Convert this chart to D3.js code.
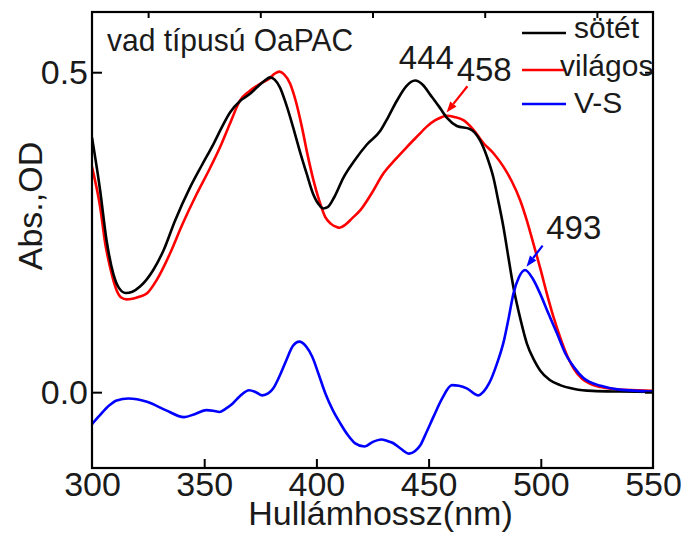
<!DOCTYPE html>
<html>
<head>
<meta charset="utf-8">
<script src="https://cdn.jsdelivr.net/npm/d3@7"></script>
<style>
  html, body { margin: 0; padding: 0; background: #fff; }
  svg { display: block; }
  text { font-family: "Liberation Sans", Arial, Helvetica, sans-serif; fill: #1a1a1a; }
</style>
</head>
<body>
<svg id="chart" width="685" height="533"></svg>
<script>
// Absorption spectra of wild-type OaPAC: dark state, light state and light-minus-dark difference
const darkNm = [300, 303.6, 306.5, 309.5, 312, 315, 318, 321.4, 327.3, 331.8, 337, 343.7, 349, 354, 358, 361.5, 366, 370, 373.4, 377, 379.4, 381.5, 383.8, 386.5, 389.7, 392.5, 395.7, 398.5, 401.6, 403.1, 405, 408, 412, 417, 422.5, 428.4, 432, 435.8, 440, 444, 447.5, 450.7, 454.5, 458.1, 462.6, 468.5, 473, 476, 478.9, 481, 483.4, 485.5, 487.8, 491, 493.8, 497, 499.7, 504, 508.6, 515, 523, 535, 550];
const darkAbs = [0.398, 0.316, 0.237, 0.185, 0.163, 0.155, 0.157, 0.165, 0.191, 0.221, 0.268, 0.320, 0.355, 0.387, 0.415, 0.437, 0.455, 0.465, 0.476, 0.487, 0.492, 0.488, 0.476, 0.450, 0.413, 0.378, 0.341, 0.310, 0.291, 0.287, 0.289, 0.305, 0.335, 0.362, 0.387, 0.408, 0.430, 0.455, 0.478, 0.487, 0.480, 0.465, 0.447, 0.429, 0.416, 0.411, 0.393, 0.368, 0.335, 0.300, 0.257, 0.212, 0.164, 0.113, 0.076, 0.050, 0.034, 0.019, 0.011, 0.005, 0.002, 0.001, 0.0005];

const lightNm = [300, 303.6, 306, 308, 311, 313, 315.4, 318, 321, 324.4, 328.8, 334.8, 340, 346.7, 352, 357.1, 361.5, 366, 370, 374.9, 379, 381.5, 383.5, 385.5, 388.3, 390.8, 393.5, 396, 398.7, 401.2, 403.9, 406.5, 409.1, 410.3, 413, 416, 419.5, 424.5, 429.9, 435, 440.3, 445, 449.2, 453, 456, 458, 461.5, 465.5, 470, 474.5, 479, 483.4, 487, 490.8, 493.8, 496.7, 499.8, 502.7, 505.6, 508.6, 512, 515, 518.4, 522, 526.7, 535, 543, 550];
const lightAbs = [0.352, 0.290, 0.230, 0.196, 0.159, 0.148, 0.145, 0.146, 0.149, 0.154, 0.175, 0.217, 0.260, 0.310, 0.346, 0.383, 0.420, 0.456, 0.470, 0.482, 0.490, 0.498, 0.501, 0.497, 0.482, 0.455, 0.415, 0.372, 0.331, 0.300, 0.274, 0.263, 0.258, 0.257, 0.262, 0.272, 0.284, 0.310, 0.342, 0.363, 0.383, 0.400, 0.415, 0.425, 0.430, 0.432, 0.430, 0.425, 0.410, 0.389, 0.373, 0.352, 0.330, 0.300, 0.268, 0.232, 0.193, 0.154, 0.118, 0.086, 0.055, 0.035, 0.021, 0.013, 0.008, 0.004, 0.003, 0.002];

const diffNm = [300, 303, 307.9, 311, 316.2, 320, 324.5, 332.8, 341, 346, 351, 354, 356.8, 359.5, 362.6, 366, 370, 373, 375.9, 378.5, 380.8, 383.7, 386.6, 389.5, 392.4, 395.3, 398.2, 401, 404, 407.3, 410.7, 414, 417.3, 421.4, 425, 428.9, 431.5, 433.9, 437.5, 441.3, 444, 446.3, 449, 452.1, 456, 460.4, 463.5, 467, 472, 474.5, 477, 480.5, 483.6, 485.8, 487.8, 490.3, 493, 496.3, 499.7, 503.5, 507.2, 511, 515, 519, 526.7, 535, 550];
const diffAbs = [-0.050, -0.038, -0.020, -0.013, -0.010, -0.011, -0.015, -0.028, -0.039, -0.034, -0.028, -0.029, -0.031, -0.026, -0.018, -0.006, 0.003, 0.000, -0.005, -0.002, 0.006, 0.026, 0.050, 0.072, 0.079, 0.072, 0.055, 0.028, -0.002, -0.028, -0.049, -0.067, -0.080, -0.085, -0.078, -0.074, -0.076, -0.079, -0.088, -0.096, -0.092, -0.083, -0.063, -0.039, -0.010, 0.011, 0.010, 0.006, -0.005, 0.001, 0.014, 0.045, 0.081, 0.118, 0.154, 0.180, 0.191, 0.178, 0.154, 0.122, 0.092, 0.060, 0.038, 0.022, 0.010, 0.004, 0.001];

const seriesNames = ["sötét", "világos", "V-S"];
const seriesColors = ["#000000", "#ff0000", "#0000ff"];

const xTicks = [300, 350, 400, 450, 500, 550];
const xTopTicks = [325, 375, 425, 475, 525];
const yTicks = [0.0, 0.5];

const peakLabels = ["444", "458", "493"];

const svg = d3.select("#chart");
const mLeft = 92, mRight = 653, mTop = 12, mBottom = 468;

const x = d3.scaleLinear().domain([300, 550]).range([mLeft, mRight]);
const y = d3.scaleLinear().domain([-0.1185, 0.5941]).range([mBottom, mTop]);

svg.append("clipPath").attr("id", "clip")
  .append("rect").attr("x", mLeft).attr("y", mTop).attr("width", mRight - mLeft).attr("height", mBottom - mTop);

const line = d3.line()
  .x(d => x(d[0]))
  .y(d => y(d[1]))
  .curve(d3.curveMonotoneX);

const series = [
  d3.zip(darkNm, darkAbs),
  d3.zip(lightNm, lightAbs),
  d3.zip(diffNm, diffAbs)
];

const curves = svg.append("g").attr("clip-path", "url(#clip)");
// red first, then black, blue on top
[1, 0, 2].forEach(i => {
  curves.append("path")
    .datum(series[i])
    .attr("d", line)
    .attr("fill", "none")
    .attr("stroke", seriesColors[i])
    .attr("stroke-width", 2.6)
    .attr("stroke-linejoin", "round");
});

// axes: ticks point inward
const axisFont = 34;
const bottomAxis = d3.axisBottom(x).tickValues(xTicks).tickFormat(d3.format("d"))
  .tickSizeInner(-9).tickSizeOuter(0);
const gB = svg.append("g").attr("transform", `translate(0,${mBottom})`).call(bottomAxis);
gB.select(".domain").remove();
gB.selectAll(".tick line").attr("stroke", "#000").attr("stroke-width", 2);
gB.selectAll(".tick text").attr("font-size", axisFont).attr("y", 28).attr("dy", null).attr("fill", "#1a1a1a");
gB.selectAll(".tick").filter(d => d === 300 || d === 550).select("line").remove();

const topAxis = d3.axisTop(x).tickValues(xTopTicks).tickFormat("")
  .tickSizeInner(-6).tickSizeOuter(0);
const gT = svg.append("g").attr("transform", `translate(0,${mTop})`).call(topAxis);
gT.select(".domain").remove();
gT.selectAll(".tick line").attr("stroke", "#000").attr("stroke-width", 2);

const leftAxis = d3.axisLeft(y).tickValues(yTicks).tickFormat(d3.format(".1f"))
  .tickSizeInner(-10).tickSizeOuter(0);
const gL = svg.append("g").attr("transform", `translate(${mLeft},0)`).call(leftAxis);
gL.select(".domain").remove();
gL.selectAll(".tick line").attr("stroke", "#000").attr("stroke-width", 2);
gL.selectAll(".tick text").attr("font-size", axisFont).attr("x", -4).attr("fill", "#1a1a1a");

const rightAxis = d3.axisRight(y).tickValues(yTicks).tickFormat("")
  .tickSizeInner(-8).tickSizeOuter(0);
const gR = svg.append("g").attr("transform", `translate(${mRight},0)`).call(rightAxis);
gR.select(".domain").remove();
gR.selectAll(".tick line").attr("stroke", "#000").attr("stroke-width", 2);

// frame
svg.append("rect")
  .attr("x", mLeft).attr("y", mTop).attr("width", mRight - mLeft).attr("height", mBottom - mTop)
  .attr("fill", "none").attr("stroke", "#000").attr("stroke-width", 2.2);

// axis titles
svg.append("text")
  .attr("x", (mLeft + mRight) / 2 + 8).attr("y", 525)
  .attr("text-anchor", "middle").attr("font-size", 34)
  .text("Hullámhossz(nm)");

svg.append("text")
  .attr("transform", "translate(42,206) rotate(-90)")
  .attr("text-anchor", "middle").attr("font-size", 34)
  .text("Abs.,OD");

// sample title
svg.append("text")
  .attr("transform", "translate(107,51) scale(1,1.04)")
  .attr("font-size", 30)
  .text("vad típusú OaPAC");

// legend
const legendY = [33, 70, 104];
const legendTextX = [574, 560, 574];
const legendBase = [38, 76, 113];
seriesNames.forEach((name, i) => {
  svg.append("line")
    .attr("x1", 522).attr("x2", 566)
    .attr("y1", legendY[i]).attr("y2", legendY[i])
    .attr("stroke", seriesColors[i]).attr("stroke-width", 2.6);
  svg.append("text")
    .attr("x", legendTextX[i]).attr("y", legendBase[i])
    .attr("font-size", 30)
    .text(name);
});

// peak annotations
const ann = [
  { label: peakLabels[0], lx: 449, ly: 0.505, anchor: "middle", color: null },
  { label: peakLabels[1], lx: 462.5, ly: 0.486, anchor: "start", color: seriesColors[1],
    from: [467.3, 0.478], to: [458, 0.437] },
  { label: peakLabels[2], lx: 502.4, ly: 0.239, anchor: "start", color: seriesColors[2],
    from: [500.8, 0.229], to: [493.6, 0.196] }
];
ann.forEach(a => {
  svg.append("text")
    .attr("x", x(a.lx)).attr("y", y(a.ly))
    .attr("text-anchor", a.anchor).attr("font-size", 33)
    .text(a.label);
  if (a.from) {
    const x1 = x(a.from[0]), y1 = y(a.from[1]);
    const x2 = x(a.to[0]), y2 = y(a.to[1]);
    const ang = Math.atan2(y2 - y1, x2 - x1);
    const hl = 11, hw = 4;
    const bx = x2 - hl * Math.cos(ang), by = y2 - hl * Math.sin(ang);
    svg.append("line")
      .attr("x1", x1).attr("y1", y1).attr("x2", bx).attr("y2", by)
      .attr("stroke", a.color).attr("stroke-width", 2.2);
    const px = -Math.sin(ang) * hw, py = Math.cos(ang) * hw;
    svg.append("path")
      .attr("d", `M${x2},${y2}L${bx + px},${by + py}L${bx - px},${by - py}Z`)
      .attr("fill", a.color);
  }
});
</script>
</body>
</html>
